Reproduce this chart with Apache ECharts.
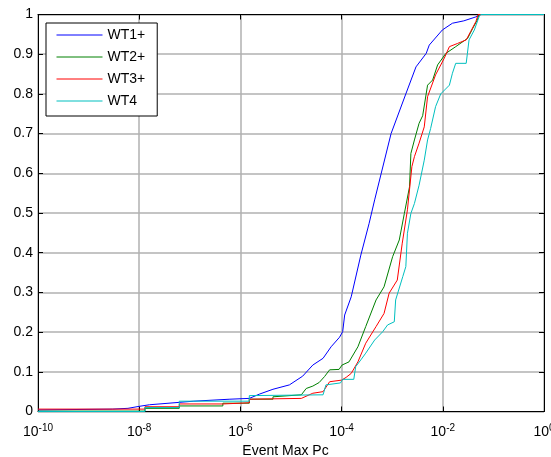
<!DOCTYPE html>
<html>
<head>
<meta charset="utf-8">
<script src="https://cdn.jsdelivr.net/npm/echarts@6/dist/echarts.min.js"></script>
<style>
html,body{margin:0;padding:0;background:#fff;}
#chart{width:551px;height:457px;}
</style>
</head>
<body>
<div id="chart"></div>
<script>
// ---- data (x = Event Max Pc, y = cumulative fraction) ----
const seriesNames = ['WT1+', 'WT2+', 'WT3+', 'WT4'];
const xTickExponents = [-10, -8, -6, -4, -2, 0];
const yTickLabels = ['0','0.1','0.2','0.3','0.4','0.5','0.6','0.7','0.8','0.9','1'];

const wt1X = [1e-10, 3e-9, 6e-9, 1e-8, 1.6e-8, 1.2e-7, 6.2e-7, 1.5e-6, 2.4e-6, 4.4e-6, 9.3e-6, 1.7e-5, 2.7e-5, 4.3e-5, 6.2e-5, 9.1e-5, 1.05e-4, 1.15e-4, 1.55e-4, 2.4e-4, 3.5e-4, 4.5e-4, 9.5e-4, 1.86e-3, 2.95e-3, 4.7e-3, 5.4e-3, 9.8e-3, 1.55e-2, 2.6e-2, 4.5e-2, 5.6e-2, 1];
const wt1Y = [0.004, 0.006, 0.008, 0.013, 0.017, 0.026, 0.031, 0.033, 0.044, 0.056, 0.067, 0.089, 0.117, 0.134, 0.163, 0.187, 0.201, 0.243, 0.289, 0.394, 0.474, 0.533, 0.70, 0.80, 0.868, 0.902, 0.923, 0.961, 0.978, 0.984, 0.994, 1.0, 1.0];

const wt2X = [1e-10, 1.3e-8, 1.3e-8, 6.2e-8, 6.2e-8, 4.5e-7, 4.5e-7, 1.5e-6, 1.5e-6, 4.4e-6, 4.4e-6, 1.6e-5, 2e-5, 2.7e-5, 3.6e-5, 4.6e-5, 5.8e-5, 8.9e-5, 1.02e-4, 1.4e-4, 2.1e-4, 3e-4, 4.8e-4, 6.9e-4, 1.02e-3, 1.38e-3, 1.74e-3, 2.2e-3, 2.34e-3, 2.75e-3, 3.4e-3, 4e-3, 5e-3, 6.3e-3, 7.9e-3, 1.15e-2, 1.8e-2, 3.1e-2, 3.9e-2, 4.8e-2, 5.2e-2, 1];
const wt2Y = [0.001, 0.001, 0.008, 0.008, 0.014, 0.014, 0.021, 0.021, 0.031, 0.031, 0.037, 0.042, 0.058, 0.064, 0.073, 0.088, 0.105, 0.106, 0.117, 0.125, 0.163, 0.214, 0.281, 0.314, 0.39, 0.432, 0.499, 0.566, 0.65, 0.684, 0.726, 0.745, 0.822, 0.835, 0.873, 0.902, 0.919, 0.94, 0.965, 0.986, 1.0, 1.0];

const wt3X = [1e-10, 1.3e-8, 1.3e-8, 6.2e-8, 6.2e-8, 4.5e-7, 4.5e-7, 1.5e-6, 1.5e-6, 1.6e-5, 1.6e-5, 2.7e-5, 4.3e-5, 5.8e-5, 1e-4, 1.23e-4, 1.55e-4, 2.1e-4, 3e-4, 4.8e-4, 6.9e-4, 8.7e-4, 1.26e-3, 1.58e-3, 2e-3, 2.45e-3, 2.75e-3, 3.4e-3, 4.3e-3, 5e-3, 7.2e-3, 1.07e-2, 1.35e-2, 1.95e-2, 2.9e-2, 3.55e-2, 4.5e-2, 5e-2, 1];
const wt3Y = [0.006, 0.006, 0.012, 0.012, 0.019, 0.019, 0.022, 0.022, 0.031, 0.033, 0.037, 0.046, 0.05, 0.075, 0.079, 0.086, 0.096, 0.125, 0.172, 0.214, 0.247, 0.298, 0.331, 0.424, 0.508, 0.617, 0.642, 0.676, 0.717, 0.793, 0.848, 0.89, 0.919, 0.927, 0.936, 0.957, 0.982, 1.0, 1.0];

const wt4X = [1e-10, 1.3e-8, 1.3e-8, 6.2e-8, 6.2e-8, 1.5e-6, 1.5e-6, 4.3e-5, 4.9e-5, 9.5e-5, 1.05e-4, 1.74e-4, 1.9e-4, 2.4e-4, 3e-4, 4.5e-4, 6.5e-4, 8.1e-4, 1.1e-3, 1.17e-3, 1.62e-3, 1.86e-3, 2e-3, 2.34e-3, 2.75e-3, 3.4e-3, 4.3e-3, 5e-3, 5.75e-3, 7.2e-3, 9.1e-3, 1.35e-2, 1.55e-2, 1.8e-2, 2.9e-2, 3.3e-2, 4.2e-2, 5.2e-2, 5.6e-2, 1];
const wt4Y = [0.0, 0.0, 0.01, 0.01, 0.026, 0.026, 0.04, 0.042, 0.067, 0.072, 0.081, 0.081, 0.113, 0.13, 0.147, 0.18, 0.201, 0.218, 0.226, 0.281, 0.34, 0.365, 0.449, 0.499, 0.524, 0.57, 0.633, 0.684, 0.713, 0.768, 0.80, 0.822, 0.852, 0.877, 0.877, 0.936, 0.961, 0.994, 1.0, 1.0];

const seriesColors = ['#0000ff', '#008000', '#ff0000', '#00bfbf'];

// ---- chart ----
const FONT = "'Liberation Sans', Arial, sans-serif";
function pairs(xs, ys) { return xs.map((x, i) => [x, ys[i]]); }
const allX = [wt1X, wt2X, wt3X, wt4X];
const allY = [wt1Y, wt2Y, wt3Y, wt4Y];

const chart = echarts.init(document.getElementById('chart'), null, {renderer: 'canvas'});

const gridLine = {show: true, lineStyle: {color: '#b0b0b0', width: 1.5, type: 'solid'}};

const option = {
  animation: false,
  backgroundColor: '#ffffff',
  textStyle: {fontFamily: FONT},
  grid: {left: 38, right: 7, top: 14.5, bottom: 45.5, containLabel: false, outerBoundsMode: 'none'},
  legend: {
    data: seriesNames,
    orient: 'vertical',
    left: 46, top: 23,
    padding: [5, 12, 8, 10],
    itemWidth: 46, itemHeight: 14, itemGap: 8,
    backgroundColor: '#ffffff',
    borderColor: '#000000', borderWidth: 1,
    itemStyle: {opacity: 0, borderWidth: 0},
    lineStyle: {width: 1},
    textStyle: {fontFamily: FONT, fontSize: 14, color: '#000'}
  },
  xAxis: [{
    type: 'log', logBase: 10, min: 1e-10, max: 1, interval: 2,
    position: 'bottom',
    name: 'Event Max Pc', nameLocation: 'middle', nameGap: 33,
    nameTextStyle: {fontFamily: FONT, fontSize: 14, color: '#000', padding: [0, 11, 0, 0]},
    axisLine: {show: true, onZero: false, lineStyle: {color: '#000', width: 1}},
    axisTick: {show: true, inside: true, length: 5, lineStyle: {color: '#000'}},
    minorTick: {show: false},
    splitLine: gridLine,
    axisLabel: {
      show: true, margin: 12, showMinLabel: true, showMaxLabel: true, hideOverlap: false,
      formatter: function (v) {
        const e = Math.round(Math.log10(v));
        if (xTickExponents.indexOf(e) < 0) return '';
        return '{b|10}{s|' + e + '}';
      },
      rich: {
        b: {fontFamily: FONT, fontSize: 14, color: '#000', lineHeight: 16, verticalAlign: 'bottom'},
        s: {fontFamily: FONT, fontSize: 10, color: '#000', lineHeight: 14, verticalAlign: 'top'}
      }
    }
  }, {
    type: 'log', logBase: 10, min: 1e-10, max: 1, interval: 2,
    position: 'top',
    axisLine: {show: true, onZero: false, lineStyle: {color: '#000', width: 1}},
    axisTick: {show: true, inside: true, length: 5, lineStyle: {color: '#000'}},
    splitLine: {show: false},
    axisLabel: {show: false}
  }],
  yAxis: [{
    type: 'value', min: 0, max: 1, interval: 0.1,
    position: 'left',
    axisLine: {show: true, onZero: false, lineStyle: {color: '#000', width: 1}},
    axisTick: {show: true, inside: true, length: 5, lineStyle: {color: '#000'}},
    splitLine: gridLine,
    axisLabel: {
      margin: 5, fontFamily: FONT, fontSize: 14, color: '#000',
      formatter: function (v) { return yTickLabels[Math.round(v * 10)]; }
    }
  }, {
    type: 'value', min: 0, max: 1, interval: 0.1,
    position: 'right',
    axisLine: {show: true, onZero: false, lineStyle: {color: '#000', width: 1}},
    axisTick: {show: true, inside: true, length: 5, lineStyle: {color: '#000'}},
    splitLine: {show: false},
    axisLabel: {show: false}
  }],
  series: seriesNames.map((name, i) => ({
    name: name,
    type: 'line',
    xAxisIndex: 0, yAxisIndex: 0,
    data: pairs(allX[i], allY[i]),
    symbol: 'none', showSymbol: false,
    lineStyle: {color: seriesColors[i], width: 1},
    itemStyle: {color: seriesColors[i]},
    clip: true
  }))
};
chart.setOption(option);
</script>
</body>
</html>
